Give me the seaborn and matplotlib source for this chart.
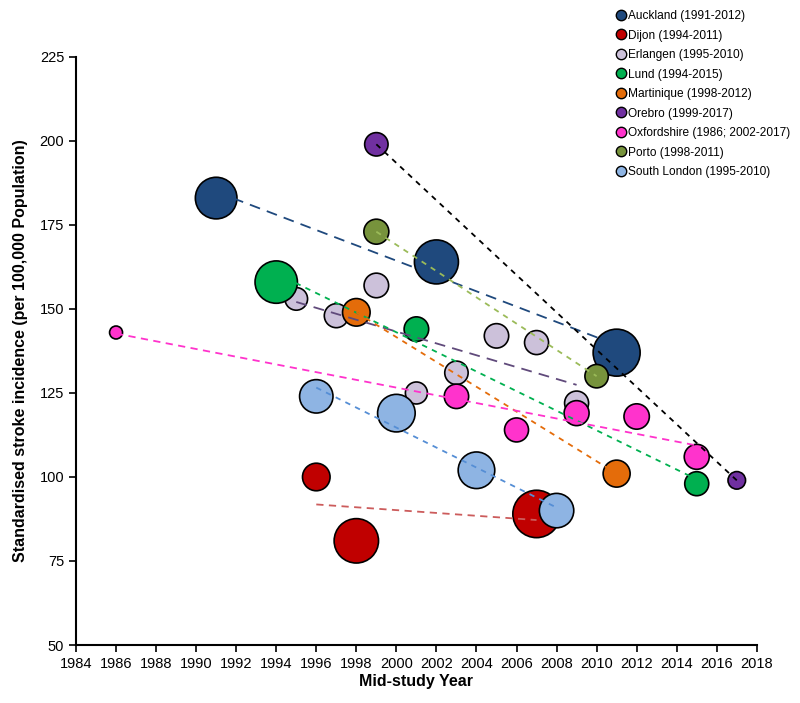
import pandas as pd
import matplotlib
matplotlib.use('Agg')
import matplotlib.pyplot as plt
from matplotlib.lines import Line2D
import seaborn as sns

# study sites and legend labels
sites = ['Auckland', 'Dijon', 'Erlangen', 'Lund', 'Martinique',
         'Orebro', 'Oxfordshire', 'Porto', 'South London']
periods = ['1991-2012', '1994-2011', '1995-2010', '1994-2015', '1998-2012',
           '1999-2017', '1986; 2002-2017', '1998-2011', '1995-2010']

# mid-study years per site
years = {
    'Auckland': [1991, 2002, 2011],
    'Dijon': [1996, 1998, 2007],
    'Erlangen': [1995, 1997, 1999, 2001, 2003, 2005, 2007, 2009],
    'Lund': [1994, 2001, 2015],
    'Martinique': [1998, 2011],
    'Orebro': [1999, 2017],
    'Oxfordshire': [1986, 2003, 2006, 2009, 2012, 2015],
    'Porto': [1999, 2010],
    'South London': [1996, 2000, 2004, 2008],
}

# standardised incidence per 100,000
rates = {
    'Auckland': [183, 164, 137],
    'Dijon': [100, 81, 89],
    'Erlangen': [153, 148, 157, 125, 131, 142, 140, 122],
    'Lund': [158, 144, 98],
    'Martinique': [149, 101],
    'Orebro': [199, 99],
    'Oxfordshire': [143, 124, 114, 119, 118, 106],
    'Porto': [173, 130],
    'South London': [124, 119, 102, 90],
}

# relative bubble area
bubbles = {
    'Auckland': [433, 484, 552],
    'Dijon': [190, 493, 562],
    'Erlangen': [128, 144, 151, 121, 137, 149, 144, 144],
    'Lund': [449, 151, 144],
    'Martinique': [190, 182],
    'Orebro': [137, 77],
    'Oxfordshire': [42, 149, 144, 156, 161, 156],
    'Porto': [156, 137],
    'South London': [279, 353, 335, 296],
}

marker_colors = ['#1F497D', '#C00000', '#CCC1DA', '#00B050', '#E46C0A',
                 '#7030A0', '#FF33CC', '#77933C', '#8EB4E3']
line_colors = ['#1F497D', '#CC5C5C', '#604A7B', '#00B050', '#E46C0A',
               'black', '#FF33CC', '#9BBB59', '#558ED5']
line_dashes = [(6, 4), (4, 3), (6, 4), (3, 3), (3, 3),
               (3, 3), (4, 3), (3, 3), (3, 3)]

rows = []
for s in sites:
    for y, r, b in zip(years[s], rates[s], bubbles[s]):
        rows.append({'site': s, 'year': y, 'rate': r, 'bubble': b})
df = pd.DataFrame(rows)

sns.set_style('white')
plt.rcParams['font.family'] = ['Liberation Sans', 'DejaVu Sans']
plt.rcParams['text.color'] = 'black'
plt.rcParams['axes.labelcolor'] = 'black'

fig = plt.figure(figsize=(8, 7.03), dpi=100)
ax = fig.add_axes([0.095, 0.0825, 0.851, 0.8365])

# px radius -> pt^2 area at 100 dpi
k = (2 * 0.72) ** 2
bmin, bmax = df['bubble'].min(), df['bubble'].max()
sns.scatterplot(data=df, x='year', y='rate', hue='site',
                palette=dict(zip(sites, marker_colors)),
                size='bubble', sizes=(k * bmin, k * bmax), size_norm=(bmin, bmax),
                edgecolor='black', linewidth=1.2, alpha=1, legend=False,
                ax=ax, zorder=2)

# linear trend per site
for s, c, d in zip(sites, line_colors, line_dashes):
    sub = df[df['site'] == s]
    sns.regplot(data=sub, x='year', y='rate', scatter=False, ci=None,
                truncate=True, ax=ax,
                line_kws=dict(color=c, lw=1.3, dashes=d, zorder=3))

ax.set_xlim(1984, 2018)
ax.set_ylim(50, 225)
ax.set_xticks(range(1984, 2019, 2))
ax.set_yticks(range(50, 226, 25))
ax.tick_params(axis='both', direction='out', length=5, width=1.2,
               labelsize=10.5, left=True, bottom=True, colors='black')
for side in ['top', 'right']:
    ax.spines[side].set_visible(False)
for side in ['left', 'bottom']:
    ax.spines[side].set_color('black')
    ax.spines[side].set_linewidth(1.5)

ax.set_xlabel('Mid-study Year', fontsize=11.5, fontweight='bold', labelpad=2)
ax.set_ylabel('Standardised stroke incidence (per 100,000 Population)',
              fontsize=11.5, fontweight='bold', labelpad=8)

handles = [Line2D([], [], ls='none', marker='o', markersize=7.5,
                  markerfacecolor=c, markeredgecolor='black', markeredgewidth=1)
           for c in marker_colors]
labels = [f'{s} ({p})' for s, p in zip(sites, periods)]
fig.legend(handles, labels, loc='upper left', bbox_to_anchor=(615 / 800, 1 - 10 / 703),
           frameon=False, fontsize=8.6, handletextpad=0.12, labelspacing=0.63,
           borderaxespad=0, borderpad=0, handlelength=1.0)

plt.savefig('out.png', dpi=100)
